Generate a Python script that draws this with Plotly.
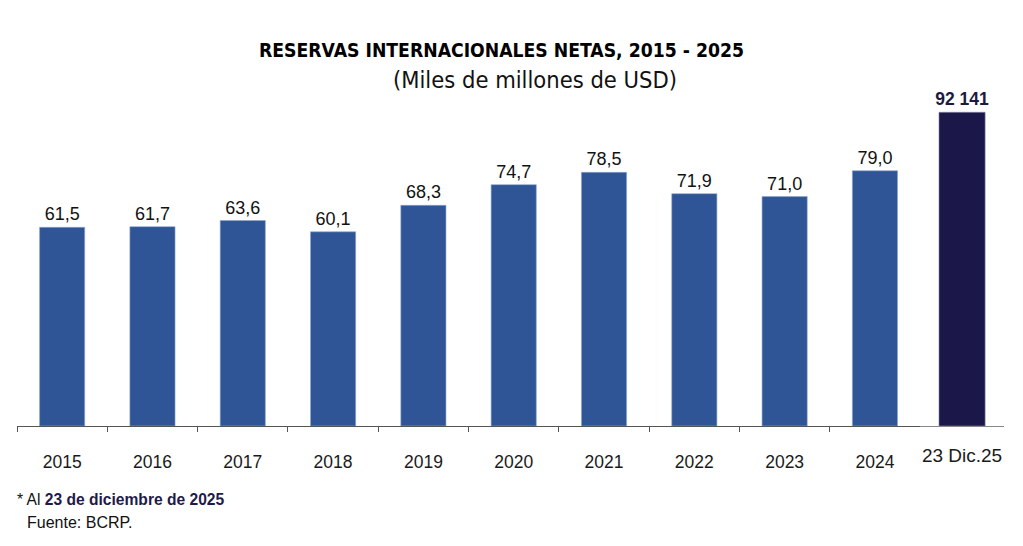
import plotly.graph_objects as go

years = ["2015", "2016", "2017", "2018", "2019", "2020", "2021", "2022", "2023", "2024"]
reserves = [61.5, 61.7, 63.6, 60.1, 68.3, 74.7, 78.5, 71.9, 71.0, 79.0]  # miles de millones USD

last_label = ["23 Dic.25"]
last_value = [92141]  # millones USD

blue = "#2F5597"
navy = "#1B1748"
narrow = "Liberation Sans Narrow, Arial Narrow, DejaVu Sans Condensed, sans-serif"
arial = "Liberation Sans, Arial, sans-serif"

# the page body adds an 8px offset, so the figure is drawn 8px smaller
W, H = 1015, 538
L, T, R, B = 9, 92, 19, 120

fig = go.Figure()

fig.add_trace(go.Bar(
    x=years, y=reserves,
    text=[f"{v:.1f}".replace(".", ",") for v in reserves],
    textposition="outside", constraintext="none",
    textfont=dict(family=arial, size=18, color="#111111"),
    marker=dict(color=blue, line=dict(color="#8FA6CC", width=0.6)),
    width=0.5, cliponaxis=False,
    xaxis="x", yaxis="y",
))

fig.add_trace(go.Bar(
    x=last_label, y=last_value,
    text=[f"{v:,}".replace(",", " ") for v in last_value],
    textposition="outside", constraintext="none",
    textfont=dict(family=arial, size=17.5, color="#1B1A40", weight="bold"),
    marker=dict(color=navy, line=dict(color="#8C8AA8", width=0.6)),
    width=0.55, cliponaxis=False,
    xaxis="x2", yaxis="y2",
))

plot_w = W - L - R
plot_h = H - T - B
base = H - B

def px(xp):
    return (xp - 8 - L) / plot_w

def py(yp):
    return (base - (yp - 8)) / plot_h

fig.update_layout(
    width=W, height=H,
    showlegend=False,
    paper_bgcolor="white", plot_bgcolor="white",
    margin=dict(l=L, r=R, t=T, b=B),
    xaxis=dict(
        domain=[0, 0.915], type="category", range=[-0.5, 9.5],
        showline=True, linecolor="#555555", linewidth=1,
        ticks="outside", tickson="boundaries", ticklen=5, tickcolor="#555555",
        tickfont=dict(family=arial, size=17.5, color="#1a1a1a"),
        ticklabelstandoff=20, showgrid=False, fixedrange=True,
    ),
    xaxis2=dict(
        domain=[0.915, 1], type="category", range=[-0.5, 0.5], anchor="y2",
        showline=True, linecolor="#888888", linewidth=1, ticks="",
        tickfont=dict(family=arial, size=19, color="#1a1a1a"),
        ticklabelstandoff=12, showgrid=False, fixedrange=True,
    ),
    yaxis=dict(range=[0, 100.9], visible=False, fixedrange=True),
    yaxis2=dict(range=[0, 95741], visible=False, anchor="x2", fixedrange=True),
    annotations=[
        dict(text="<b>RESERVAS INTERNACIONALES NETAS, 2015 - 2025</b>",
             x=px(501), y=py(51), xanchor="center", yanchor="middle",
             font=dict(family=narrow, size=19.2, color="#000000")),
        dict(text="(Miles de millones de USD)",
             x=px(535), y=py(80), xanchor="center", yanchor="middle",
             font=dict(family=narrow, size=23.5, color="#111111")),
        dict(text="* Al <b><span style='color:#1F1A4A'>23 de diciembre de 2025</span></b>",
             x=px(15), y=py(499), xanchor="left", yanchor="middle",
             font=dict(family=arial, size=15.6, color="#111111")),
        dict(text="Fuente: BCRP.",
             x=px(25), y=py(522), xanchor="left", yanchor="middle",
             font=dict(family=arial, size=16, color="#111111")),
    ],
)
fig.update_annotations(xref="paper", yref="paper", showarrow=False)

fig.write_html("out.html")
